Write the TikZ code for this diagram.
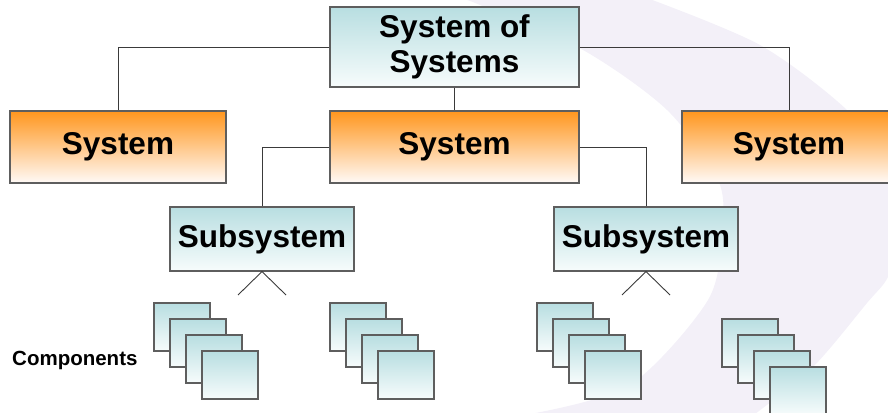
\documentclass[tikz,border=0pt]{standalone}
\usepackage{fontspec}
\setmainfont{Liberation Sans}
\definecolor{lav}{HTML}{F3F0F8}
\definecolor{boxline}{HTML}{5E5E5E}
\definecolor{linkc}{HTML}{3A3A3A}
\definecolor{orgtop}{HTML}{FF961E}
\definecolor{orgmid}{HTML}{FFC9A3}
\definecolor{orgbot}{HTML}{FFFAF7}
\definecolor{cyntop}{HTML}{B8DEE1}
\definecolor{cynmid}{HTML}{D4EBED}
\definecolor{cynbot}{HTML}{F7FCFC}
\begin{document}
\begin{tikzpicture}[x=1pt,y=-1pt,
  box/.style={draw=boxline, line width=1.1pt, inner sep=0pt, align=center,
    font=\bfseries\fontsize{31.5}{35}\selectfont},
  sysbox/.style={box, minimum height=72pt, top color=orgtop, middle color=orgmid, bottom color=orgbot},
  topbox/.style={box, minimum height=80pt, top color=cyntop, middle color=cynmid, bottom color=cynbot},
  subbox/.style={box, minimum height=64pt, minimum width=184pt, top color=cyntop, middle color=cynmid, bottom color=cynbot},
  comp/.style={draw=boxline, line width=1.4pt, inner sep=0pt, minimum width=56pt, minimum height=48pt,
    top color=cyntop, middle color=cynmid, bottom color=cynbot},
  link/.style={draw=linkc, line width=0.9pt}]
\useasboundingbox (0,0) rectangle (888,412);
\begin{scope}
  \clip (0,0) rectangle (888,412);
  % pale crescent in the background
  \fill[lav] (460,-2) -- (647,-2)
    -- plot[smooth] coordinates {(647,-2) (760,45) (847,110) (892,170) (905,230) (888,277) (867,303) (813,367) (755,414)}
    -- (530,414)
    -- plot[smooth] coordinates {(530,414) (630,385) (708,300) (722,230) (718,180) (667,110) (583,50) (480,5) (460,-2)}
    -- cycle;

  % boxes
  \node[topbox, minimum width=249pt] (sos) at (454.5,47) {System of\\Systems};
  \node[sysbox, minimum width=216pt] (sysL) at (118,147) {System};
  \node[sysbox, minimum width=249pt] (sysM) at (454.5,147) {System};
  \node[sysbox, minimum width=214pt] (sysR) at (789,147) {System};
  \node[subbox] (subL) at (262,239) {Subsystem};
  \node[subbox] (subR) at (646,239) {Subsystem};

  % tree connectors
  \draw[link] (sos.west) -| (sysL.north);
  \draw[link] (sos.east) -| (sysR.north);
  \draw[link] (sos.south) -- (sysM.north);
  \draw[link] (sysM.west) -| (subL.north);
  \draw[link] (sysM.east) -| (subR.north);

  % fan-out below each subsystem
  \coordinate (fL1) at (238,295);
  \coordinate (fL2) at (286,295);
  \coordinate (fR1) at (622,295);
  \coordinate (fR2) at (670,295);
  \draw[link] (fL1) -- (subL.south) -- (fL2);
  \draw[link] (fR1) -- (subR.south) -- (fR2);

  % stacks of components
  \foreach \g/\x/\y in {1/182/327, 2/358/327, 3/565/327, 4/750/343} {
    \foreach \k in {0,1,2,3} {
      \node[comp] (g\g c\k) at (\x+16*\k, \y+16*\k) {};
    }
  }
  \node[font=\bfseries\fontsize{20.5}{24}\selectfont, anchor=west, inner sep=0pt] (lbl) at (12,360) {Components};
\end{scope}
\end{tikzpicture}
\end{document}
